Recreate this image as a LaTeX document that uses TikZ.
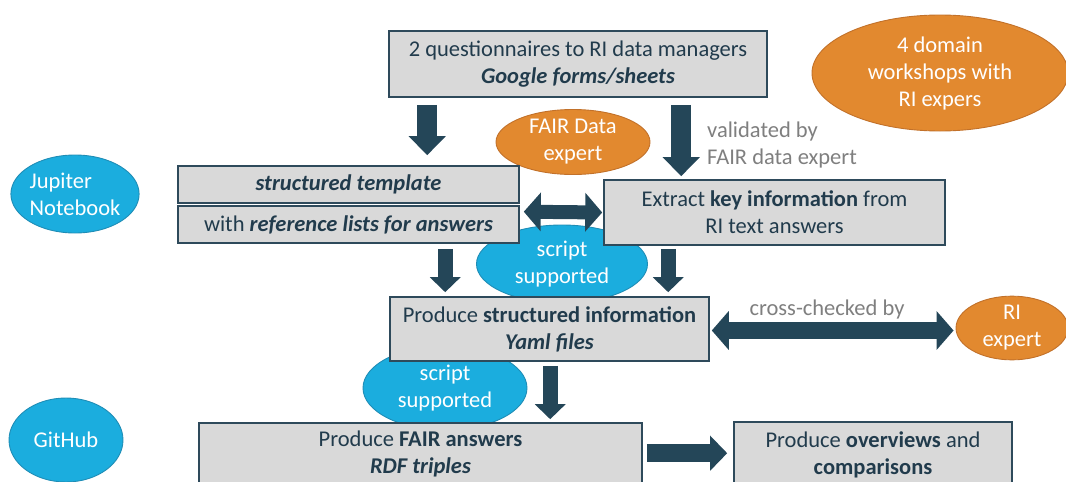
\documentclass[tikz,border=0pt]{standalone}
\usepackage{fontspec}
\setmainfont{Carlito}
\usetikzlibrary{arrows.meta,calc,shapes.geometric}
\definecolor{boxfill}{HTML}{D9D9D9}
\definecolor{boxline}{HTML}{2E4A5B}
\definecolor{ink}{HTML}{213B4C}
\definecolor{arrc}{HTML}{244658}
\definecolor{skyfill}{HTML}{1BADDE}
\definecolor{skyline}{HTML}{1F8DB6}
\definecolor{ambfill}{HTML}{E2892F}
\definecolor{ambline}{HTML}{C2712A}
\definecolor{note}{HTML}{7F7F7F}
\newcommand\bitxt[1]{\textbf{\textit{#1}}}
\tikzset{
  every node/.style={font=\fontsize{22.5}{27}\selectfont},
  stepbox/.style={draw=boxline, fill=boxfill, line width=1.6pt, text=ink,
    align=center, inner sep=0pt},
  blob/.style={ellipse, inner sep=0pt, text=white, align=center, line width=0.9pt},
  sky/.style={blob, fill=skyfill, draw=skyline},
  amber/.style={blob, fill=ambfill, draw=ambline},
  bigdown/.style={draw=arrc, line width=20pt, -{Triangle[width=36pt,length=19pt]}},
  middown/.style={draw=arrc, line width=15pt, -{Triangle[width=30pt,length=15pt]}},
  twoway/.style={draw=arrc, line width=#1, {Triangle[width=38pt,length=17pt]}-{Triangle[width=38pt,length=17pt]}},
  oneway/.style={draw=arrc, line width=18pt, -{Triangle[width=34pt,length=17pt]}},
  remark/.style={text=note, align=left, inner sep=0pt}
}
\begin{document}
\begin{tikzpicture}[x=1pt, y=-1pt]
\clip (0,0) rectangle (1066,482);

% ellipses (underneath the boxes)
\node[sky, minimum width=113pt, minimum height=78pt, align=left] (jup) at (75,194) {Jupiter\\Notebook};
\node[amber, minimum width=154pt, minimum height=65pt] (fde) at (573,142) {FAIR Data\\expert};
\node[amber, minimum width=256pt, minimum height=116pt] (dom) at (940,73) {4 domain\\workshops with\\RI expers};
\node[sky, minimum width=171pt, minimum height=78pt] (sc1) at (562,264) {script\\supported};
\node[sky, minimum width=164pt, minimum height=84pt] (sc2) at (445,388) {script\\supported};
\node[amber, minimum width=112pt, minimum height=60pt] (ri) at (1012,328) {RI\\expert};
\node[sky, minimum width=114pt, minimum height=84pt] (gh) at (66,440) {GitHub};

% process boxes
\node[stepbox, minimum width=378pt, minimum height=66pt] (q) at (578,64)
  {2 questionnaires to RI data managers\\\bitxt{Google forms/sheets}};
\node[stepbox, minimum width=341pt, minimum height=37pt] (tmpl) at (348.5,184.5)
  {\bitxt{structured template}};
\node[stepbox, minimum width=341pt, minimum height=37pt] (refl) at (348.5,224.5)
  {with \bitxt{reference lists for answers}};
\node[stepbox, minimum width=341pt, minimum height=65pt] (ext) at (774.5,212.5)
  {Extract \textbf{key information} from\\RI text answers};
\node[stepbox, minimum width=319pt, minimum height=64pt] (st) at (549.5,329)
  {Produce \textbf{structured information}\\\bitxt{Yaml files}};
\node[stepbox, minimum width=443pt, minimum height=62pt] (fair) at (420.5,454)
  {Produce \textbf{FAIR answers}\\\bitxt{RDF triples}};
\node[stepbox, minimum width=278pt, minimum height=66pt] (ov) at (873,455)
  {Produce \textbf{overviews} and\\\textbf{comparisons}};

% side remarks
\node[remark, anchor=west] (val) at (707,145) {validated by\\FAIR data expert};
\node[remark] (xck) at (827,309) {cross-checked by};

% block arrows
\draw[bigdown] ($(q.south west)+(39,7)$) -- ($(tmpl.north west)+(250,-10)$);
\draw[bigdown] ($(q.south west)+(293,7)$) -- ($(ext.north west)+(78,-3)$);
\draw[twoway=14pt] ($(refl.north east)+(4,6.5)$) -- ($(ext.west)+(-1,0)$);
\draw[middown] ($(refl.south west)+(268,5)$) -- ($(st.north west)+(56,-4)$);
\draw[middown] ($(ext.south west)+(65,3)$) -- ($(st.north west)+(279,-4)$);
\draw[twoway=17pt] ($(st.east)+(2,1.5)$) -- ($(ri.west)+(-2,2.5)$);
\draw[middown] ($(st.south west)+(161,4)$) -- ($(fair.north west)+(352,-3)$);
\draw[oneway] ($(fair.north east)+(4,31)$) -- ($(ov.north west)+(-6,32)$);
\end{tikzpicture}
\end{document}
